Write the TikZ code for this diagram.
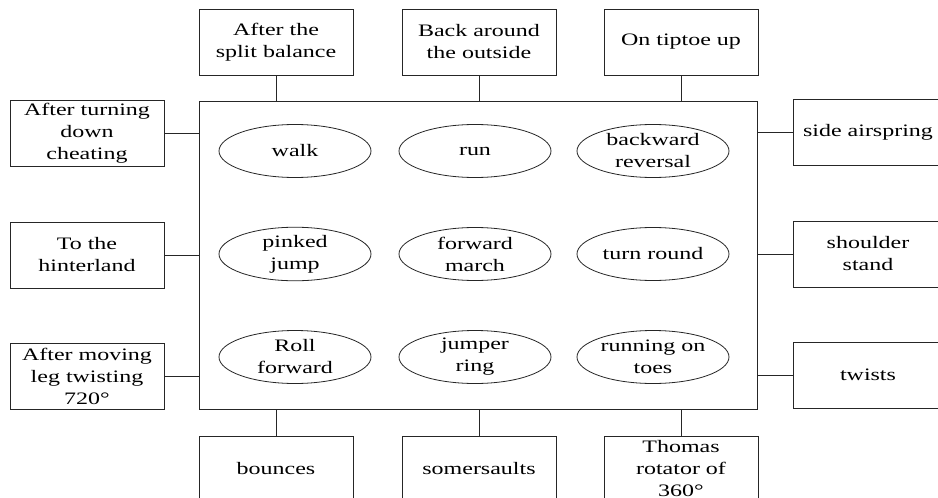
\documentclass[tikz,border=0pt]{standalone}
\usepackage{fontspec}
\setmainfont{Liberation Serif}[FakeStretch=1.37]
\usetikzlibrary{shapes.geometric,calc}
\tikzset{
  txt/.style={font=\fontsize{17.5}{22}\selectfont, align=center, text=black},
  box/.style={txt, draw=black!85, line width=0.8pt, rectangle, inner sep=0pt,
              minimum width=154pt, minimum height=66pt},
  oval/.style={txt, draw=black!85, line width=0.8pt, ellipse, inner sep=0pt,
               minimum width=152pt, minimum height=53pt},
  link/.style={draw=black!85, line width=0.8pt},
}
\begin{document}
\begin{tikzpicture}[x=1pt,y=-1pt]
  \clip (0,0) rectangle (938,498);
  \fill[white] (0,0) rectangle (938,498);

  % central frame
  \node[draw=black!85, line width=0.8pt, minimum width=558pt, minimum height=308pt, inner sep=0pt]
    (main) at (478,255) {};

  % movements inside the frame
  \node[oval] (walk) at (295,151) {walk};
  \node[oval] (run)  at (475,151) {run};
  \node[oval] (back) at (653,151) {backward\\reversal};
  \node[oval] (pink) at (295,254) {pinked\\jump};
  \node[oval] (fwd)  at (475,254) {forward\\march};
  \node[oval] (turn) at (653,254) {turn round};
  \node[oval] (roll) at (295,357) {Roll\\forward};
  \node[oval] (ring) at (475,357) {jumper\\ring};
  \node[oval] (toes) at (653,357) {running on\\toes};

  % top row
  \node[box] (t1) at (276,42) {After the\\split balance};
  \node[box] (t2) at (479,42) {Back around\\the outside};
  \node[box] (t3) at (681,42) {On tiptoe up};

  % left column
  \node[box] (l1) at (87,133.5) {After turning\\down\\cheating};
  \node[box] (l2) at (87,255)   {To the\\hinterland};
  \node[box] (l3) at (87,376.5) {After moving\\leg twisting\\720°};

  % right column
  \node[box, minimum width=150pt] (r1) at (868,132.5) {side airspring};
  \node[box, minimum width=150pt] (r2) at (868,254)   {shoulder\\stand};
  \node[box, minimum width=150pt] (r3) at (868,375)   {twists};

  % bottom row
  \node[box] (b1) at (276,469) {bounces};
  \node[box] (b2) at (479,469) {somersaults};
  \node[box] (b3) at (681,469) {Thomas\\rotator of\\360°};

  % connectors to the frame
  \foreach \n in {t1,t2,t3}{\draw[link] (\n.south) -- (\n.south |- main.north);}
  \foreach \n in {b1,b2,b3}{\draw[link] (\n.north) -- (\n.north |- main.south);}
  \foreach \n in {l1,l2,l3}{\draw[link] (\n.east) -- (\n.east -| main.west);}
  \foreach \n in {r1,r2,r3}{\draw[link] (\n.west) -- (\n.west -| main.east);}
\end{tikzpicture}
\end{document}
